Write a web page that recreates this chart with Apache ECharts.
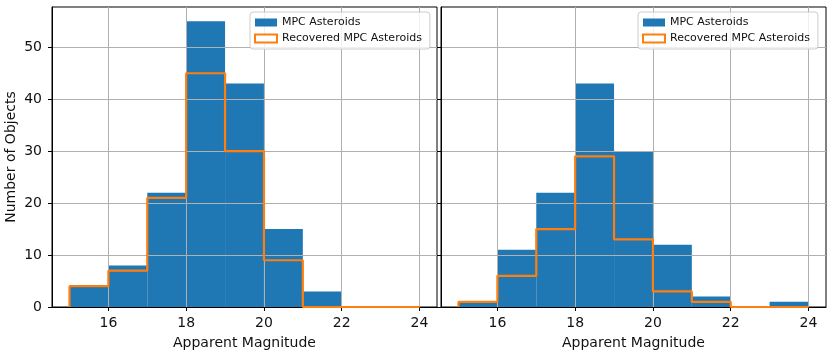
<!DOCTYPE html>
<html>
<head>
<meta charset="utf-8">
<script src="https://cdn.jsdelivr.net/npm/echarts@6/dist/echarts.min.js"></script>
<style>
html, body { margin: 0; padding: 0; background: #fff; }
#chart { width: 830px; height: 355px; }
</style>
</head>
<body>
<div id="chart"></div>
<script>
// histogram bins (apparent magnitude)
var binEdges = [15, 16, 17, 18, 19, 20, 21, 22, 23, 24];
// left panel
var leftAll = [4, 8, 22, 55, 43, 15, 3, 0, 0];
var leftRecovered = [4, 7, 21, 45, 30, 9, 0, 0, 0];
// right panel
var rightAll = [1, 11, 22, 43, 30, 12, 2, 0, 1];
var rightRecovered = [1, 6, 15, 29, 13, 3, 1, 0, 0];
// tick labels
var xTicks = [16, 18, 20, 22, 24];
var yTicks = [0, 10, 20, 30, 40, 50];

var font = 'DejaVu Sans';
var blue = '#1f77b4';
var orange = '#ff7f0e';

function binData(counts) {
    var out = [];
    for (var i = 0; i < counts.length; i++) {
        out.push([binEdges[i], binEdges[i + 1], counts[i]]);
    }
    return out;
}

// outline of a step histogram
function stepData(counts) {
    var pts = [[binEdges[0], 0]];
    for (var i = 0; i < counts.length; i++) {
        pts.push([binEdges[i], counts[i]]);
        pts.push([binEdges[i + 1], counts[i]]);
    }
    pts.push([binEdges[binEdges.length - 1], 0]);
    return pts;
}

function renderBin(params, api) {
    var p0 = api.coord([api.value(0), api.value(2)]);
    var p1 = api.coord([api.value(1), 0]);
    return {
        type: 'rect',
        shape: { x: p0[0], y: p0[1], width: p1[0] - p0[0], height: p1[1] - p0[1] },
        style: { fill: blue }
    };
}

function xAxisFor(idx) {
    return {
        type: 'value',
        gridIndex: idx,
        min: 14.55,
        max: 24.45,
        z: 2,
        name: 'Apparent Magnitude',
        nameLocation: 'middle',
        nameGap: 29,
        nameTextStyle: { fontFamily: font, fontSize: 14, color: '#111' },
        axisLine: { lineStyle: { color: '#000', width: 1 } },
        axisTick: { show: true, length: 4, customValues: xTicks, lineStyle: { color: '#000', width: 1 } },
        axisLabel: { customValues: xTicks, margin: 9, fontFamily: font, fontSize: 14, color: '#111' },
        splitLine: { show: true, lineStyle: { color: '#b0b0b0', width: 1 } }
    };
}

function yAxisFor(idx) {
    return {
        type: 'value',
        gridIndex: idx,
        min: 0,
        max: 57.75,
        z: 2,
        name: idx == 0 ? 'Number of Objects' : '',
        nameLocation: 'middle',
        nameRotate: 90,
        nameGap: 34,
        nameTextStyle: { fontFamily: font, fontSize: 14, color: '#111' },
        axisLine: { show: true, lineStyle: { color: '#000', width: 1 } },
        axisTick: { show: true, length: 4, customValues: yTicks, lineStyle: { color: '#000', width: 1 } },
        axisLabel: { show: idx == 0, customValues: yTicks, margin: 10, fontFamily: font, fontSize: 14, color: '#111' },
        splitLine: { show: true, lineStyle: { color: '#b0b0b0', width: 1 } }
    };
}

function legendAt(left) {
    return {
        left: left,
        top: 12,
        orient: 'vertical',
        itemWidth: 22,
        itemHeight: 8,
        itemGap: 3,
        padding: [4, 8, 4, 4],
        backgroundColor: 'rgba(255,255,255,0.8)',
        borderColor: '#cccccc',
        borderWidth: 1,
        borderRadius: 3,
        textStyle: { fontFamily: font, fontSize: 11, color: '#111', lineHeight: 13 },
        selectedMode: false,
        data: [
            { name: 'MPC Asteroids', icon: 'rect', itemStyle: { color: blue } },
            { name: 'Recovered MPC Asteroids', icon: 'rect',
              itemStyle: { color: '#fff', borderColor: orange, borderWidth: 2 } }
        ]
    };
}

function panelSeries(idx, all, rec) {
    return [
        {
            name: 'MPC Asteroids',
            type: 'custom',
            xAxisIndex: idx,
            yAxisIndex: idx,
            renderItem: renderBin,
            encode: { x: [0, 1], y: 2 },
            itemStyle: { color: blue },
            data: binData(all),
            z: 1
        },
        {
            name: 'Recovered MPC Asteroids',
            type: 'line',
            xAxisIndex: idx,
            yAxisIndex: idx,
            symbol: 'none',
            lineStyle: { color: orange, width: 2.2 },
            itemStyle: { color: orange },
            data: stepData(rec),
            z: 3
        }
    ];
}

var chart = echarts.init(document.getElementById('chart'));
var option = {
    animation: false,
    backgroundColor: '#fff',
    grid: [
        { left: 52, top: 7, width: 385, height: 301, show: true, borderColor: '#000', borderWidth: 1 },
        { left: 441, top: 7, width: 385, height: 301, show: true, borderColor: '#000', borderWidth: 1 }
    ],
    xAxis: [xAxisFor(0), xAxisFor(1)],
    yAxis: [yAxisFor(0), yAxisFor(1)],
    legend: [legendAt(250), legendAt(638)],
    series: panelSeries(0, leftAll, leftRecovered).concat(panelSeries(1, rightAll, rightRecovered))
};
chart.setOption(option);
</script>
</body>
</html>
